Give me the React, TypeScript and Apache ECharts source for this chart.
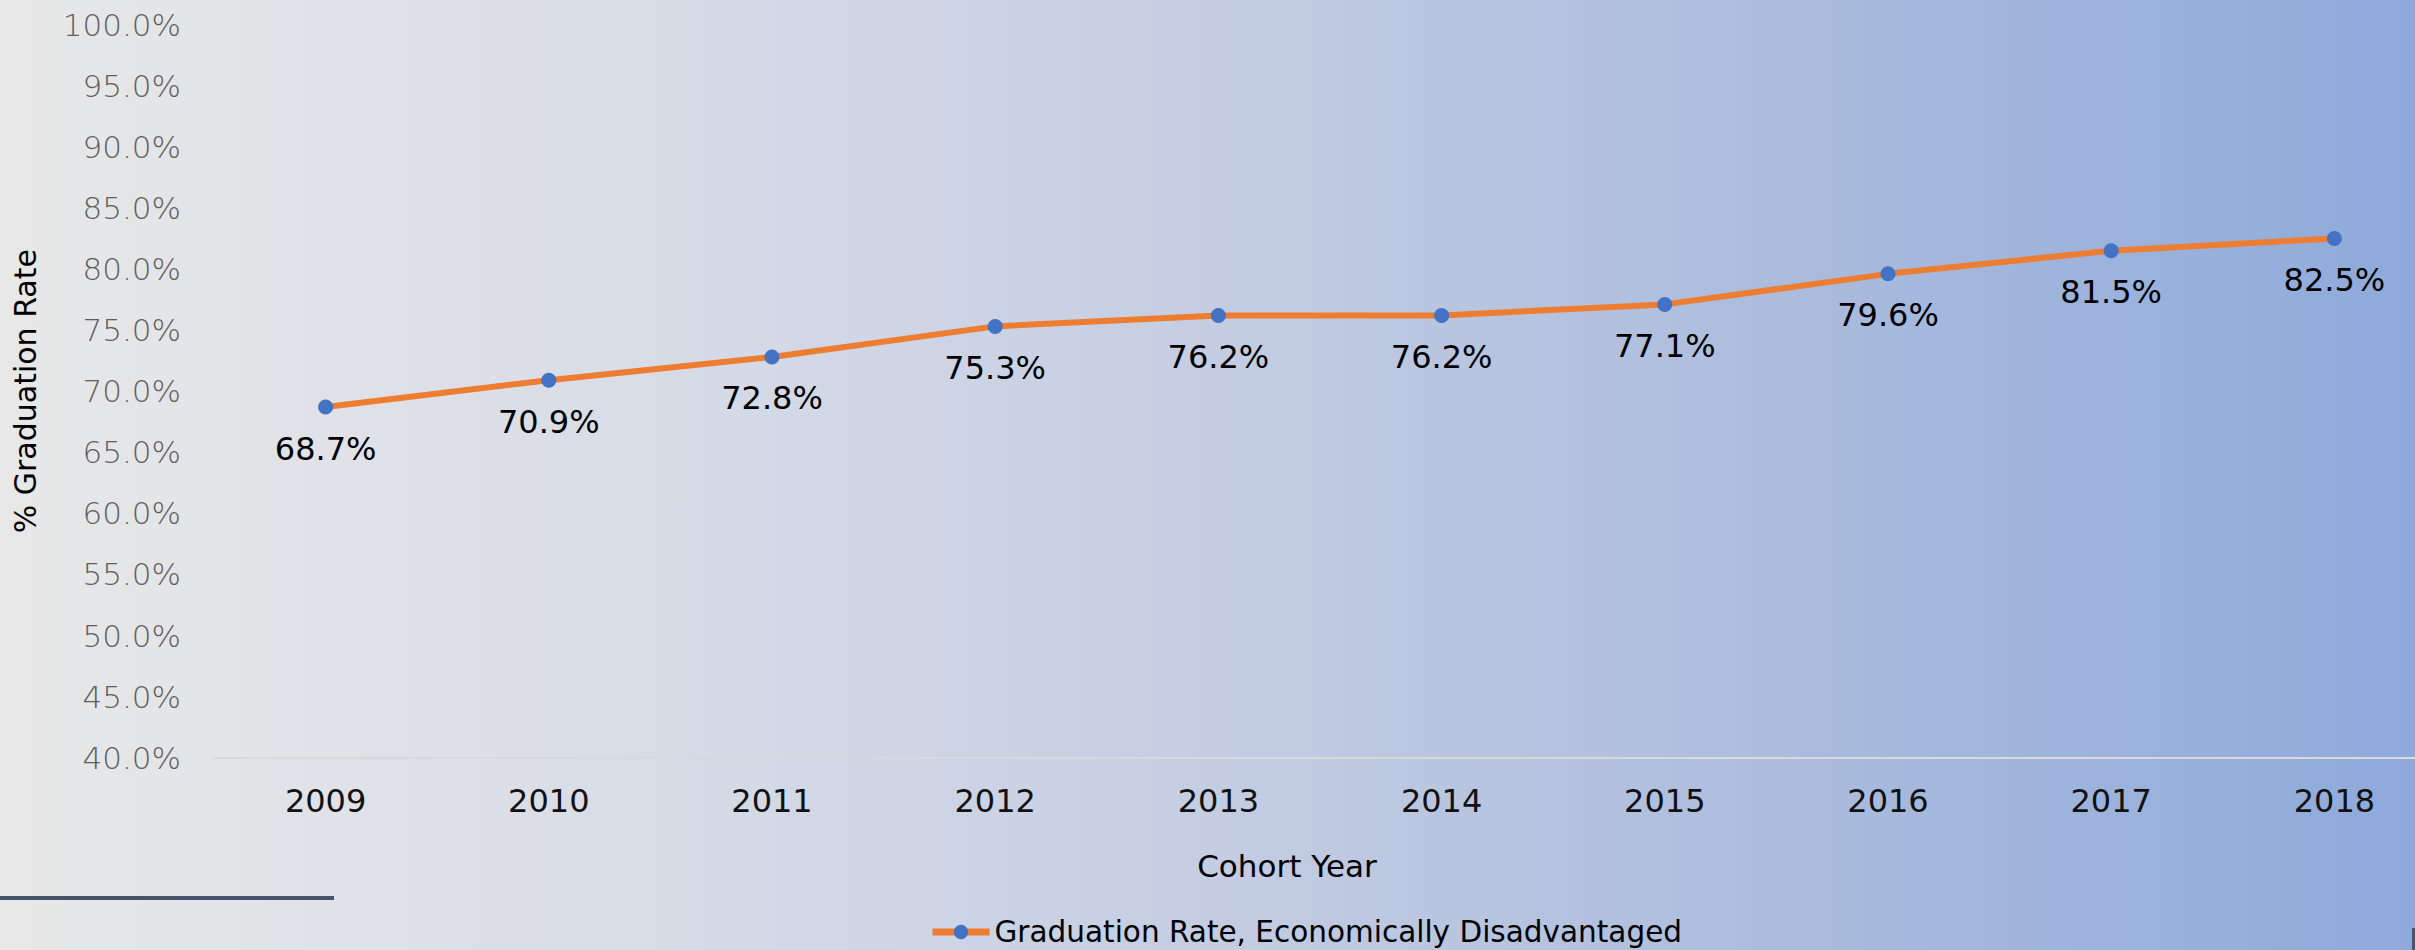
import React, { useEffect, useRef } from "react";
import * as echarts from "echarts";

const categories = ["2009", "2010", "2011", "2012", "2013", "2014", "2015", "2016", "2017", "2018"];
const gradRate = [68.7, 70.9, 72.8, 75.3, 76.2, 76.2, 77.1, 79.6, 81.5, 82.5];
const seriesName = "Graduation Rate, Economically Disadvantaged";
const yAxisTitle = "% Graduation Rate";
const xAxisTitle = "Cohort Year";

export default function App() {
  const ref = useRef<HTMLDivElement>(null);
  useEffect(() => {
    if (!ref.current) return;
    const chart = echarts.init(ref.current, null, { renderer: "svg" });
    chart.setOption({
      animation: false,
      grid: {
        left: 214,
        width: 2232,
        top: 24.6,
        bottom: 192.3,
        containLabel: false,
        outerBoundsMode: "none",
      },
      legend: {
        left: 924,
        top: 912,
        itemWidth: 57,
        itemHeight: 18,
        itemGap: 8,
        lineStyle: { width: 7 },
        textStyle: { fontFamily: "DejaVu Sans", fontSize: 29.5, color: "#000" },
        data: [seriesName],
      },
      xAxis: {
        type: "category",
        data: categories,
        boundaryGap: true,
        axisLine: { show: true, lineStyle: { color: "#d9d9d9", width: 2 } },
        axisTick: { show: false },
        axisLabel: { margin: 27, fontFamily: "DejaVu Sans", fontSize: 32, color: "#111" },
        splitLine: { show: false },
      },
      yAxis: {
        type: "value",
        min: 40,
        max: 100,
        interval: 5,
        name: yAxisTitle,
        nameLocation: "middle",
        nameGap: 174,
        nameRotate: 90,
        nameTextStyle: { fontFamily: "DejaVu Sans", fontSize: 30, color: "#000" },
        axisLine: { show: false },
        axisTick: { show: false },
        splitLine: { show: false },
        axisLabel: {
          margin: 33,
          fontFamily: "DejaVu Sans",
          fontWeight: 200,
          fontSize: 31,
          color: "#606060",
          formatter: (v: number) => v.toFixed(1) + "%",
        },
      },
      series: [
        {
          name: seriesName,
          type: "line",
          data: gradRate,
          symbol: "circle",
          symbolSize: 15,
          lineStyle: { color: "#ed7d31", width: 6 },
          itemStyle: { color: "#4472c4" },
          label: {
            show: true,
            position: "bottom",
            distance: 18,
            fontFamily: "DejaVu Sans",
            fontSize: 32,
            color: "#000",
            formatter: (p: any) => p.value.toFixed(1) + "%",
          },
        },
      ],
      graphic: [
        {
          type: "text",
          x: 1287,
          y: 866,
          style: {
            text: xAxisTitle,
            fontFamily: "DejaVu Sans",
            fontSize: 31,
            fill: "#000",
            align: "center",
            verticalAlign: "middle",
          },
        },
        {
          type: "rect",
          shape: { x: 0, y: 896, width: 334, height: 4 },
          style: { fill: "#44546a" },
          silent: true,
        },
        {
          type: "rect",
          shape: { x: 2412, y: 928, width: 3, height: 22 },
          style: { fill: "#44546a" },
          silent: true,
        },
      ],
    });
    return () => chart.dispose();
  }, []);
  return (
    <div
      ref={ref}
      style={{
        position: "fixed",
        left: 0,
        top: 0,
        width: 2415,
        height: 950,
        background:
          "linear-gradient(to right, #e8e8e8 0%, #d9dde7 25%, #c4cde2 50%, #aabbdd 75%, #8eaadb 100%)",
      }}
    />
  );
}
